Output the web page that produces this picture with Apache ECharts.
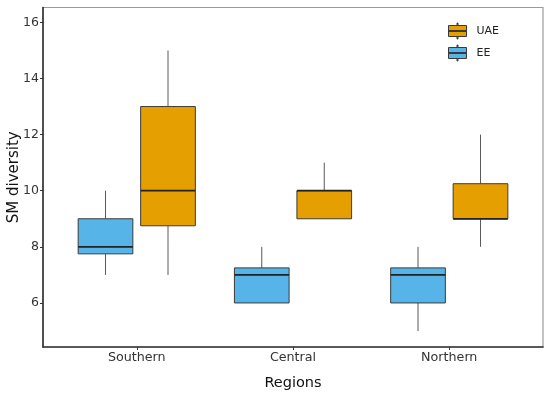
<!DOCTYPE html>
<html>
<head>
<meta charset="utf-8">
<script src="https://cdn.jsdelivr.net/npm/echarts@6/dist/echarts.min.js"></script>
<style>html,body{margin:0;padding:0;background:#fff}#c{width:550px;height:394px}</style>
</head>
<body>
<div id="c"></div>
<script>
const categories = ['Southern', 'Central', 'Northern'];
// [min, Q1, median, Q3, max]
const eeStats = [[7, 7.75, 8, 9, 10], [6, 6, 7, 7.25, 8], [5, 6, 7, 7.25, 8]];
const uaeStats = [[7, 8.75, 10, 13, 15], [9, 9, 10, 10, 11], [8, 9, 9, 10.25, 12]];
const yTicks = [6, 8, 10, 12, 14, 16];
const xTicks = [1, 2, 3];

const EE_COLOR = '#56B4E9';
const UAE_COLOR = '#E69F00';

function makeRender(offset, fill) {
  return function (params, api) {
    const x = api.value(0) + offset;
    const yMin = api.coord([x, api.value(1)])[1];
    const yQ1 = api.coord([x, api.value(2)])[1];
    const yMed = api.coord([x, api.value(3)])[1];
    const yQ3 = api.coord([x, api.value(4)])[1];
    const yMax = api.coord([x, api.value(5)])[1];
    const cx = api.coord([x, api.value(3)])[0];
    const w = api.size([0.35, 0])[0];
    return {
      type: 'group',
      children: [
        { type: 'line', shape: { x1: cx, y1: yQ3, x2: cx, y2: yMax }, style: { stroke: '#5a5a5a', lineWidth: 1 } },
        { type: 'line', shape: { x1: cx, y1: yMin, x2: cx, y2: yQ1 }, style: { stroke: '#5a5a5a', lineWidth: 1 } },
        { type: 'rect', shape: { x: cx - w / 2, y: yQ3, width: w, height: yQ1 - yQ3 }, style: { fill: fill, stroke: '#3a3a3a', lineWidth: 1 } },
        { type: 'line', shape: { x1: cx - w / 2, y1: yMed, x2: cx + w / 2, y2: yMed }, style: { stroke: '#222', lineWidth: 1.8 } }
      ]
    };
  };
}

const legendIcon = 'path://M0,2.5H18V13.5H0Z M0,7.5H18V8.5H0Z M8.5,0H9.5V2.5H8.5Z M8.5,13.5H9.5V16H8.5Z';

const chart = echarts.init(document.getElementById('c'), null, { renderer: 'canvas' });
chart.setOption({
  animation: false,
  backgroundColor: '#fff',
  grid: { left: 43, top: 7.5, width: 500, height: 339.5, outerBoundsMode: 'none', containLabel: false, show: true, borderColor: '#9a9a9a', borderWidth: 1.2, backgroundColor: 'transparent' },
  legend: {
    orient: 'vertical',
    left: 448, top: 22.5, padding: 0,
    itemWidth: 18, itemHeight: 16, itemGap: 5,
    icon: legendIcon,
    textStyle: { fontFamily: 'DejaVu Sans', fontSize: 11, color: '#222', padding: [0, 0, 0, 5] },
    data: [
      { name: 'UAE', itemStyle: { color: UAE_COLOR, borderColor: '#3a3a3a', borderWidth: 1 } },
      { name: 'EE', itemStyle: { color: EE_COLOR, borderColor: '#3a3a3a', borderWidth: 1 } }
    ]
  },
  xAxis: {
    type: 'value', min: 0.4, max: 3.6,
    name: 'Regions', nameLocation: 'middle', nameGap: 29, nameMoveOverlap: false,
    nameTextStyle: { fontFamily: 'DejaVu Sans', fontSize: 14.5, color: '#111' },
    axisLine: { show: true, lineStyle: { color: '#333', width: 1.6 } },
    axisTick: { show: true, length: 3, lineStyle: { color: '#333' }, customValues: xTicks },
    axisLabel: { margin: 4, fontFamily: 'DejaVu Sans', fontSize: 12.7, color: '#333', customValues: xTicks, formatter: v => categories[Math.round(v) - 1] },
    splitLine: { show: false }
  },
  yAxis: {
    type: 'value', min: 4.43, max: 16.53,
    name: 'SM diversity', nameLocation: 'middle', nameGap: 21, nameMoveOverlap: false,
    nameTextStyle: { fontFamily: 'DejaVu Sans', fontSize: 15, color: '#111' },
    axisLine: { show: true, lineStyle: { color: '#333', width: 1.6 } },
    axisTick: { show: true, length: 3, lineStyle: { color: '#333' }, customValues: yTicks },
    axisLabel: { margin: 4, fontFamily: 'DejaVu Sans', fontSize: 12.5, color: '#333', customValues: yTicks },
    splitLine: { show: false }
  },
  series: [
    {
      name: 'EE', type: 'custom', renderItem: makeRender(-0.2, EE_COLOR),
      itemStyle: { color: EE_COLOR },
      encode: { x: 0, y: [1, 2, 3, 4, 5] },
      data: eeStats.map((s, i) => [i + 1].concat(s))
    },
    {
      name: 'UAE', type: 'custom', renderItem: makeRender(0.2, UAE_COLOR),
      itemStyle: { color: UAE_COLOR },
      encode: { x: 0, y: [1, 2, 3, 4, 5] },
      data: uaeStats.map((s, i) => [i + 1].concat(s))
    }
  ]
});
</script>
</body>
</html>
